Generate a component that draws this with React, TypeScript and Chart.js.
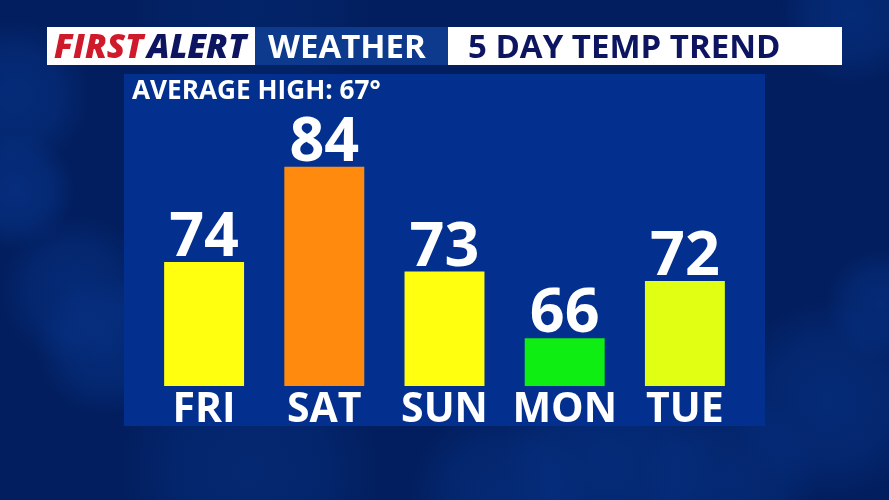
import { Chart, registerables } from "chart.js"
import type { Plugin } from "chart.js"
import { useEffect, useRef } from "react"

Chart.register(...registerables)

const days = ["FRI", "SAT", "SUN", "MON", "TUE"]
const highs = [74, 84, 73, 66, 72]
const barColors = ["#ffff0f", "#ff8a0d", "#ffff0f", "#0fee12", "#e0ff12"]
const brandRed = "FIRST"
const brandBlue = "ALERT"
const headerMiddle = "WEATHER"
const headerRight = "5 DAY TEMP TREND"
const averageLabel = "AVERAGE HIGH: 67°"

const FONT = '"Open Sans", sans-serif'
const NAVY = "#0e1560"

// lighter cloud patches on the dark backdrop: x, y, radius, alpha
const clouds: [number, number, number, number][] = [
	[15, 95, 75, 0.6],
	[15, 190, 60, 0.7],
	[75, 290, 75, 0.55],
	[105, 345, 70, 0.6],
	[250, 10, 120, 0.25],
	[850, 15, 70, 0.55],
	[880, 305, 55, 0.55],
	[830, 400, 100, 0.55],
	[250, 470, 130, 0.45],
	[500, 495, 90, 0.5],
	[610, 465, 110, 0.6],
	[730, 480, 90, 0.5],
]

const broadcastFrame: Plugin<"bar"> = {
	id: "broadcastFrame",
	beforeDraw(chart) {
		const ctx = chart.ctx
		ctx.save()
		ctx.fillStyle = "#021e5e"
		ctx.fillRect(0, 0, 889, 500)
		for (const [x, y, r, a] of clouds) {
			const g = ctx.createRadialGradient(x, y, 0, x, y, r)
			g.addColorStop(0, `rgba(7,52,138,${a})`)
			g.addColorStop(0.6, `rgba(7,52,138,${a * 0.7})`)
			g.addColorStop(1, "rgba(7,52,138,0)")
			ctx.fillStyle = g
			ctx.fillRect(0, 0, 889, 500)
		}

		// panel behind the bars
		ctx.fillStyle = "#03308f"
		ctx.fillRect(124, 74, 641, 352)

		// header strip
		ctx.fillStyle = "#0d3a8c"
		ctx.fillRect(255, 27, 193, 38)
		ctx.fillStyle = "#ffffff"
		ctx.fillRect(47, 27, 208, 38)
		ctx.fillRect(448, 27, 394, 38)

		ctx.textBaseline = "alphabetic"
		ctx.textAlign = "left"
		ctx.font = `italic 800 33.5px ${FONT}`
		ctx.fillStyle = "#cf1a2b"
		ctx.fillText(brandRed, 54, 58)
		ctx.fillStyle = NAVY
		ctx.fillText(brandBlue, 147, 58)

		ctx.font = `700 33px ${FONT}`
		ctx.fillStyle = "#ffffff"
		ctx.fillText(headerMiddle, 268, 58)
		ctx.fillStyle = NAVY
		ctx.fillText(headerRight, 468, 58)

		ctx.font = `700 26.2px ${FONT}`
		ctx.fillStyle = "#ffffff"
		ctx.fillText(averageLabel, 132, 99)
		ctx.restore()
	},
}

const valueLabels: Plugin<"bar"> = {
	id: "valueLabels",
	afterDatasetsDraw(chart) {
		const ctx = chart.ctx
		const meta = chart.getDatasetMeta(0)
		ctx.save()
		ctx.font = `700 61px ${FONT}`
		ctx.fillStyle = "#ffffff"
		ctx.textAlign = "center"
		ctx.textBaseline = "alphabetic"
		meta.data.forEach((bar, i) => {
			ctx.fillText(String(highs[i]), bar.x, bar.y - 6)
		})
		ctx.restore()
	},
}

export default function App() {
	const canvasRef = useRef<HTMLCanvasElement>(null)

	useEffect(() => {
		document.body.style.margin = "0"
		if (!canvasRef.current) return
		const ctx = canvasRef.current.getContext("2d")
		if (!ctx) return

		const chart = new Chart(ctx, {
			type: "bar",
			data: {
				labels: days,
				datasets: [
					{
						data: highs,
						backgroundColor: barColors,
						categoryPercentage: 1,
						barPercentage: 0.665,
					},
				],
			},
			options: {
				responsive: false,
				animation: false,
				devicePixelRatio: 1,
				layout: { padding: { left: 144, right: 144, top: 109.5, bottom: 0 } },
				plugins: {
					legend: { display: false },
					tooltip: { enabled: false },
				},
				scales: {
					x: {
						grid: { display: false },
						border: { display: false },
						ticks: {
							color: "#ffffff",
							font: { family: FONT, size: 41, weight: "bold" },
							padding: -8,
							maxRotation: 0,
							autoSkip: false,
						},
						afterFit(scale) {
							scale.height = 114
						},
					},
					y: {
						display: false,
						min: 61,
						max: 90,
					},
				},
			},
			plugins: [broadcastFrame, valueLabels],
		})

		return () => {
			chart.destroy()
		}
	}, [])

	return <canvas ref={canvasRef} width={889} height={500} style={{ display: "block" }} />
}
